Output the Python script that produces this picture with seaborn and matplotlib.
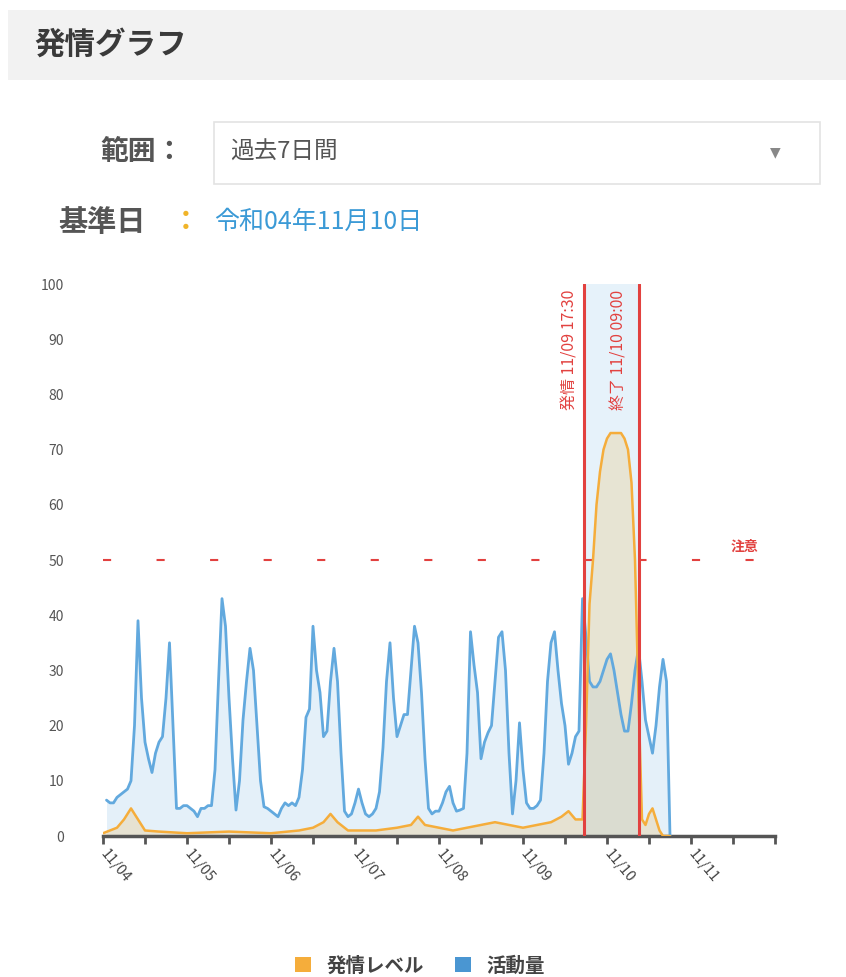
import numpy as np
import pandas as pd
import matplotlib
matplotlib.use("Agg")
import matplotlib.pyplot as plt
import matplotlib.dates as mdates
from matplotlib.patches import Rectangle, Patch
from matplotlib.transforms import blended_transform_factory
import seaborn as sns

# ---- data -------------------------------------------------------------
start_date = "2022-11-04 00:00"
day_labels = ["11/04", "11/05", "11/06", "11/07", "11/08", "11/09", "11/10", "11/11"]

# hourly activity (活動量), hours counted from 11/04 00:00
act_hours = list(range(1, 163))
act_values = [
    6.5, 6, 6, 7, 7.5, 8, 8.5, 10, 20, 39, 25, 17, 14, 11.5, 15, 17, 18, 25, 35, 20, 5, 5, 5.5, 5.5,
    5, 4.5, 3.5, 5, 5, 5.5, 5.5, 12, 28, 43, 38, 25, 14, 4.7, 10, 21, 28, 34, 30, 20, 10, 5.3, 5, 4.5,
    4, 3.5, 5, 6, 5.5, 6, 5.5, 7, 12, 21.5, 23, 38, 30, 26, 18, 19, 28, 34, 28, 15, 4.5, 3.5, 4, 6,
    8.5, 6, 4, 3.5, 4, 5, 8, 16, 28, 35, 25, 18, 20, 22, 22, 30, 38, 35, 26, 14, 5, 4, 4.5, 4.5,
    6, 8, 9, 6, 4.5, 4.7, 5, 15, 37, 31, 26, 14, 17, 18.7, 20, 28, 36, 37, 30, 15, 4, 10, 20.5, 12,
    6, 5, 5, 5.5, 6.5, 15, 28, 35, 37, 30, 24, 20, 13, 15, 18, 19, 43, 36, 28, 27, 27, 28, 30, 32,
    33, 30, 26, 22, 19, 19, 24, 30, 34, 28, 21, 18, 15, 20, 27, 32, 28, 0,
]

# estrus level (発情レベル)
lvl_hours = [0, 4, 6, 8, 10, 12, 16, 24, 36, 48,
             56, 60, 63, 65, 67, 70, 78, 84, 88, 90,
             92, 96, 100, 104, 108, 112, 116, 120, 124, 128,
             131, 133, 135, 137, 138, 139, 140, 141, 142, 143,
             144, 145, 146, 147, 148, 149, 150, 151, 152, 153,
             154, 155, 156, 157, 158, 159, 160, 162]
lvl_values = [0.5, 1.5, 3, 5, 3, 1, 0.8, 0.5, 0.8, 0.5,
              1, 1.5, 2.5, 4, 2.5, 1, 1, 1.5, 2, 3.5,
              2, 1.5, 1, 1.5, 2, 2.5, 2, 1.5, 2, 2.5,
              3.5, 4.5, 3, 3, 20, 42, 50, 60, 66, 70,
              72, 73, 73, 73, 73, 72, 70, 64, 50, 25,
              3, 2, 4, 5, 3, 1, 0, 0]

estrus_start = "2022-11-09 17:30"
estrus_end = "2022-11-10 09:00"
start_label = "発情 11/09 17:30"
end_label = "終了 11/10 09:00"
caution_level = 50
caution_label = "注意"

# ---- frames -----------------------------------------------------------
t0 = pd.Timestamp(start_date)
act = pd.DataFrame({"time": t0 + pd.to_timedelta(act_hours, unit="h"), "value": act_values})
lvl = pd.DataFrame({"time": t0 + pd.to_timedelta(lvl_hours, unit="h"), "value": lvl_values})
t_start = pd.Timestamp(estrus_start)
t_end = pd.Timestamp(estrus_end)

# ---- style ------------------------------------------------------------
sns.set_theme(style="white")
plt.rcParams["font.family"] = ["Noto Sans CJK JP", "DejaVu Sans"]

W, H = 846, 977
fig = plt.figure(figsize=(W / 100, H / 100), dpi=100)
fig.patch.set_facecolor("white")


def fx(x):
    return x / W


def fy(y):
    return 1 - y / H


ORANGE = "#f5ad3b"
BLUE = "#62a9de"
RED = "#e2413f"
GREY = "#555555"

# header bar
fig.patches.append(Rectangle((fx(8), fy(80)), fx(838), 70 / H, transform=fig.transFigure,
                             facecolor="#f2f2f2", edgecolor="none", zorder=0))
fig.text(fx(34), fy(45), "発情グラフ", fontsize=22, fontweight="bold", color="#3a3a3a",
         va="center", ha="left")

# range selector
fig.text(fx(184), fy(152), "範囲：", fontsize=20, fontweight="bold", color=GREY,
         va="center", ha="right")
fig.patches.append(Rectangle((fx(214), fy(184)), 606 / W, 62 / H, transform=fig.transFigure,
                             facecolor="white", edgecolor="#e3e3e3", linewidth=1.2, zorder=1))
fig.text(fx(230), fy(152), "過去7日間", fontsize=17, color="#555555", va="center", ha="left")
fig.text(fx(775), fy(152), "▼", fontsize=10, color="#888888", va="center", ha="center",
         family="DejaVu Sans")

# reference date
fig.text(fx(58), fy(222), "基準日", fontsize=21, fontweight="bold", color=GREY,
         va="center", ha="left")
fig.text(fx(172), fy(222), "：", fontsize=20, fontweight="bold", color="#f0b429",
         va="center", ha="left")
fig.text(fx(214), fy(222), "令和04年11月10日", fontsize=18, color="#3b9ad6",
         va="center", ha="left")

# ---- chart ------------------------------------------------------------
ax = fig.add_axes([fx(103), fy(836), 672 / W, 552 / H])
ax.set_facecolor("white")

ax.axvspan(t_start, t_end, color="#dcedf8", alpha=0.7, lw=0, zorder=0)

ax.fill_between(act["time"], act["value"], color=BLUE, alpha=0.17, lw=0, zorder=1)
ax.fill_between(lvl["time"], lvl["value"], color="#e9d3a4", alpha=0.45, lw=0, zorder=1)
sns.lineplot(data=act, x="time", y="value", ax=ax, color=BLUE, linewidth=2, zorder=3)
sns.lineplot(data=lvl, x="time", y="value", ax=ax, color=ORANGE, linewidth=1.8, zorder=3)

# caution threshold
ax.axhline(caution_level, color=RED, lw=1.5, dashes=(3.9, 21.8), zorder=2)
ax.text(0.955, caution_level + 1.2, caution_label,
        transform=blended_transform_factory(ax.transAxes, ax.transData),
        color=RED, fontsize=10, fontweight="bold", ha="center", va="bottom")

# estrus interval
for t in (t_start, t_end):
    ax.axvline(t, color=RED, lw=2.2, zorder=4)
ax.annotate(start_label, xy=(t_start, 99), xytext=(-4, 0), textcoords="offset points",
            rotation=90, ha="right", va="top", color=RED, fontsize=11.5)
ax.annotate(end_label, xy=(t_end, 99), xytext=(-8, 0), textcoords="offset points",
            rotation=90, ha="right", va="top", color=RED, fontsize=11.5)

ax.set_xlim(t0, t0 + pd.Timedelta(days=8))
ax.set_ylim(0, 100)
ax.set_yticks(range(0, 101, 10))
ax.set_xlabel("")
ax.set_ylabel("")

ax.xaxis.set_major_locator(mdates.DayLocator())
ax.xaxis.set_minor_locator(mdates.HourLocator(byhour=12))
ticks = ax.get_xticks()
ax.set_xticks(ticks)
ax.set_xticklabels(day_labels + [""] * (len(ticks) - len(day_labels)))

for s in ("top", "right", "left"):
    ax.spines[s].set_visible(False)
ax.spines["bottom"].set_color("#555555")
ax.spines["bottom"].set_linewidth(2.5)
ax.tick_params(axis="x", which="both", length=6, width=2, color="#555555", bottom=True,
               labelsize=10.5, labelcolor="#444444", pad=5)
ax.tick_params(axis="y", length=0, labelsize=10, labelcolor="#555555", pad=28)
plt.setp(ax.get_xticklabels(), rotation=-50, ha="left", va="center", rotation_mode="anchor")
ax.grid(False)

# legend
handles = [Patch(facecolor=ORANGE, edgecolor="none", label="発情レベル"),
           Patch(facecolor="#4a96d2", edgecolor="none", label="活動量")]
fig.legend(handles=handles, loc="center", bbox_to_anchor=(fx(420), fy(966)), ncol=2,
           frameon=False, prop={"size": 14, "weight": "bold"}, handlelength=0.8,
           handleheight=0.8, handletextpad=0.8, columnspacing=1.6, labelcolor="#444444")

fig.savefig("out.png", dpi=100, facecolor="white")
